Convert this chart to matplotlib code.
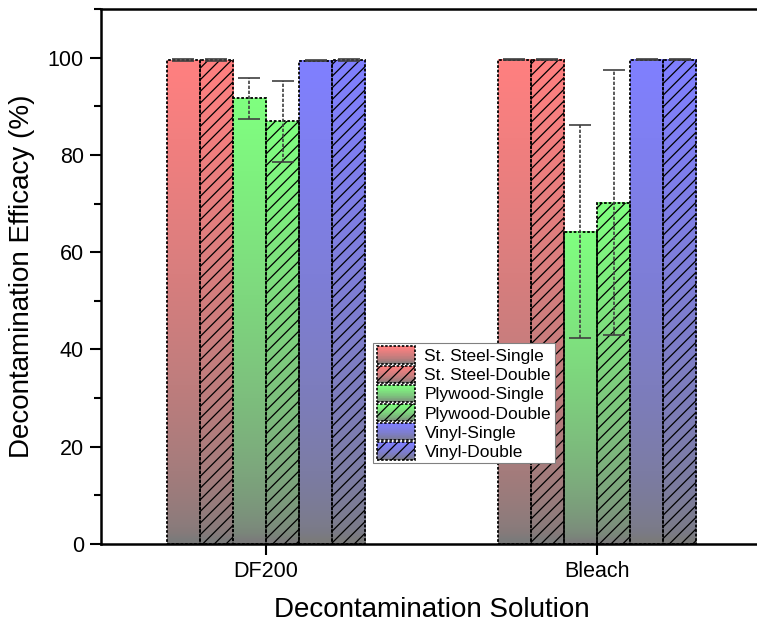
import numpy as np
import matplotlib
matplotlib.use("Agg")
import matplotlib.pyplot as plt
from matplotlib.patches import Rectangle, Patch
from matplotlib.legend_handler import HandlerBase
from matplotlib.ticker import MultipleLocator

# ---- data ----
solutions = ["DF200", "Bleach"]
series = ["St. Steel-Single", "St. Steel-Double", "Plywood-Single",
          "Plywood-Double", "Vinyl-Single", "Vinyl-Double"]
values_df200 = [99.5, 99.5, 91.6, 86.9, 99.4, 99.5]
values_bleach = [99.6, 99.6, 64.2, 70.2, 99.6, 99.6]
errors_df200 = [0.15, 0.15, 4.2, 8.35, 0.15, 0.15]
errors_bleach = [0.1, 0.1, 21.9, 27.3, 0.05, 0.05]

top_colors = [(1.0, 0.5, 0.5), (1.0, 0.5, 0.5), (0.5, 1.0, 0.5),
              (0.5, 1.0, 0.5), (0.5, 0.5, 1.0), (0.5, 0.5, 1.0)]
hatches = [None, '////', None, '////', None, '////']
bottom_gray = np.array([0.48, 0.48, 0.48])

DPI = 140
k = 100 / DPI  # sizes below are written as points at 100 dpi, scaled by k

plt.rcParams['font.family'] = ['Liberation Sans', 'DejaVu Sans']
plt.rcParams['hatch.linewidth'] = 0.9 * k

W, H = 757, 629
fig = plt.figure(figsize=(W / DPI, H / DPI), dpi=DPI)
ax = fig.add_axes([100.5 / W, 85 / H, 662 / W, 535 / H])

x = np.arange(len(solutions))
bw = 0.1
n = len(series)


def grad_array(c, npts=64):
    t = np.linspace(0, 1, npts)[:, None] ** 0.6
    c = np.array(c)
    arr = bottom_gray[None, :] * (1 - t) + c[None, :] * t
    return arr[:, None, :]


for i in range(n):
    vals = [values_df200[i], values_bleach[i]]
    errs = [errors_df200[i], errors_bleach[i]]
    xs = x + (i - (n - 1) / 2) * bw
    for xi, v in zip(xs, vals):
        ax.imshow(grad_array(top_colors[i]), extent=(xi - bw / 2, xi + bw / 2, 0, v),
                  origin='lower', aspect='auto', interpolation='bilinear', zorder=1)
    ax.bar(xs, vals, width=bw, facecolor='none', edgecolor='black',
           linewidth=1.3 * k, linestyle=(0, (1.5, 1)), hatch=hatches[i], zorder=2)
    eb = ax.errorbar(xs, vals, yerr=errs, fmt='none', ecolor='0.25',
                     elinewidth=1.2 * k, capsize=8 * k, capthick=1.2 * k, zorder=3)
    for lc in eb[2]:
        lc.set_linestyle((0, (2, 1)))


ax.set_xlim(-0.5, 1.5)
ax.set_ylim(0, 110)
ax.set_xticks(x)
ax.set_xticklabels(solutions)
ax.yaxis.set_minor_locator(MultipleLocator(10))
ax.set_yticks([0, 20, 40, 60, 80, 100])
ax.tick_params(axis='both', which='major', direction='out', length=8 * k, width=1.5 * k,
               labelsize=15.5 * k, pad=4 * k)
ax.tick_params(axis='y', which='minor', direction='out', length=5 * k, width=1.5 * k)
ax.tick_params(axis='x', which='minor', bottom=False)
for s in ['left', 'bottom', 'top']:
    ax.spines[s].set_linewidth(1.8 * k)
ax.spines['right'].set_visible(False)

ax.set_xlabel("Decontamination Solution", fontsize=20 * k, labelpad=11 * k)
ax.set_ylabel("Decontamination Efficacy (%)", fontsize=20 * k, labelpad=9 * k)


class GradHandler(HandlerBase):
    def __init__(self, color, hatch):
        super().__init__()
        self.color = color
        self.hatch = hatch

    def create_artists(self, legend, orig_handle, xdescent, ydescent,
                       width, height, fontsize, trans):
        arts = []
        m = 24
        arr = grad_array(self.color, m)[:, 0, :]
        for j in range(m):
            r = Rectangle((-xdescent, -ydescent + j * height / m), width,
                          height / m * 1.05, facecolor=arr[j], edgecolor='none',
                          transform=trans)
            arts.append(r)
        e = Rectangle((-xdescent, -ydescent), width, height, facecolor='none',
                      edgecolor='black', linewidth=1.2 * k, linestyle=(0, (1.5, 1)),
                      hatch=self.hatch, transform=trans)
        arts.append(e)
        return arts


handles = [Patch(label=s) for s in series]
hmap = {h: GradHandler(top_colors[i], hatches[i]) for i, h in enumerate(handles)}
leg = ax.legend(handles=handles, handler_map=hmap, loc='upper left',
                bbox_to_anchor=(0.412, 0.376), borderaxespad=0, fontsize=12.5 * k,
                frameon=True, fancybox=False, edgecolor='0.5', framealpha=1,
                handlelength=2.2, handleheight=1.15, handletextpad=0.55,
                labelspacing=0.1, borderpad=0.2)
leg.get_frame().set_linewidth(0.8 * k)

fig.savefig("out.png", dpi=DPI)
